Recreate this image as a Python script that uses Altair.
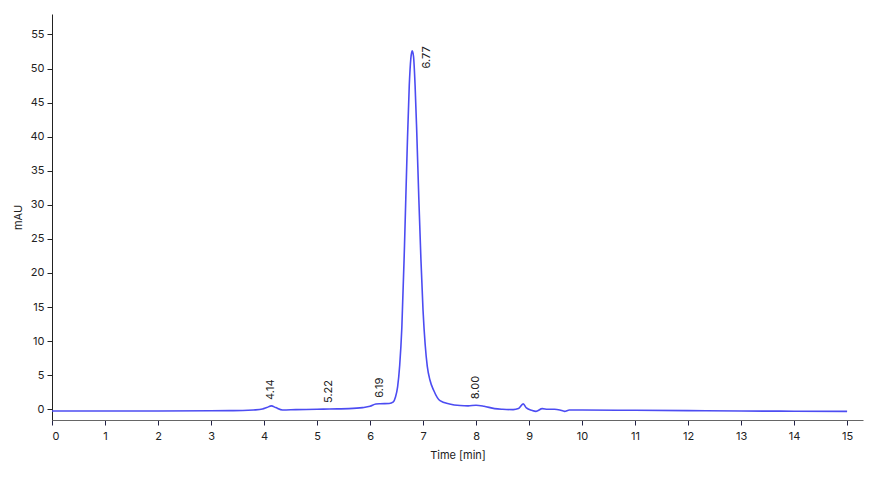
import altair as alt
import pandas as pd

# Chromatogram trace
time = [0.0, 1.0, 2.0, 3.0, 3.35, 3.6, 3.8, 3.97, 4.05, 4.14, 4.22, 4.35, 4.6, 5.0, 5.23, 5.6,
        5.86, 6.0, 6.11, 6.19, 6.36, 6.44, 6.48, 6.52, 6.56, 6.6, 6.65, 6.7, 6.74, 6.77,
        6.795, 6.82, 6.85, 6.88, 6.92, 6.96, 7.0, 7.04, 7.08, 7.13, 7.2, 7.32, 7.5,
        7.7, 7.85, 8.0, 8.15, 8.35, 8.5, 8.7, 8.8, 8.89, 8.95, 9.05, 9.13, 9.25, 9.35,
        9.48, 9.58, 9.67, 9.76, 10.0, 11.0, 12.0, 13.0, 14.0, 15.0]
mau = [-0.25, -0.25, -0.25, -0.22, -0.2, -0.18, -0.1, 0.04, 0.25, 0.5, 0.25, -0.1, -0.05, 0.0, 0.05, 0.1,
       0.25, 0.45, 0.78, 0.82, 0.85, 1.1, 1.8, 3.3, 6.5, 12.0, 24.0, 38.0, 47.5, 51.5,
       52.6, 51.8, 47.5, 41.0, 31.0, 22.0, 14.5, 9.5, 6.3, 4.3, 2.8, 1.26, 0.78,
       0.55, 0.5, 0.6, 0.45, 0.1, 0.0, -0.05, 0.1, 0.8, 0.2, -0.15, -0.3, 0.1, 0.0,
       0.0, -0.1, -0.3, -0.1, -0.1, -0.15, -0.2, -0.25, -0.28, -0.3]

# Peak labels
peak_time = [4.14, 5.22, 6.19, 8.00]
peak_val = [0.5, 0.05, 0.82, 0.6]
peak_text = ["4.14", "5.22", "6.19", "8.00"]
main_time = [6.77]
main_val = [50.0]
main_text = ["6.77"]

x_ticks = list(range(0, 16))
y_ticks = list(range(0, 60, 5))

trace = pd.DataFrame({"t": time, "v": mau})
peaks = pd.DataFrame({"t": peak_time, "v": peak_val, "lab": peak_text})
main = pd.DataFrame({"t": main_time, "v": main_val, "lab": main_text})

FONT = "Inter"
xscale = alt.Scale(domain=[0, 15.3], nice=False, zero=False)
yscale = alt.Scale(domain=[-1.57, 58], nice=False, zero=False)

x_axis = alt.Axis(title="Time [min]", values=x_ticks, format="d",
                  grid=False, tickSize=5, labelPadding=5, labelFontSize=11,
                  labelOverlap=False,
                  titleFontSize=11, titleFontWeight="normal", titlePadding=8,
                  domainColor="#666666", tickColor="#222244", labelColor="#222222",
                  titleColor="#222222", labelFont=FONT, titleFont=FONT)
y_axis = alt.Axis(title="mAU", values=y_ticks, grid=False, format="d",
                  labelOverlap=False,
                  tickSize=5, labelPadding=3, labelFontSize=11, titleFontSize=11,
                  titleFontWeight="normal", titlePadding=6,
                  domainColor="#222222", tickColor="#222222", labelColor="#222222",
                  titleColor="#222222", labelFont=FONT, titleFont=FONT)

X = alt.X("t:Q", scale=xscale, axis=x_axis)
Y = alt.Y("v:Q", scale=yscale, axis=y_axis)

line = alt.Chart(trace).mark_line(color="#4c4cf2", strokeWidth=1.6,
                                  interpolate="monotone").encode(x=X, y=Y)

labels = alt.Chart(peaks).mark_text(angle=270, align="left", baseline="middle", dx=6,
                                    fontSize=11, font=FONT, color="#222222").encode(
    x=X, y=Y, text="lab:N")

main_lab = alt.Chart(main).mark_text(angle=270, align="left", baseline="middle", dy=16,
                                     fontSize=11, font=FONT, color="#222222").encode(
    x=X, y=Y, text="lab:N")

chart = alt.layer(line, labels, main_lab).properties(
    width=811, height=406,
    padding={"left": 4, "top": 6, "right": 2, "bottom": 5},
).configure_view(stroke=None)

chart.save("out.html", embed_options={"renderer": "svg", "actions": False})
